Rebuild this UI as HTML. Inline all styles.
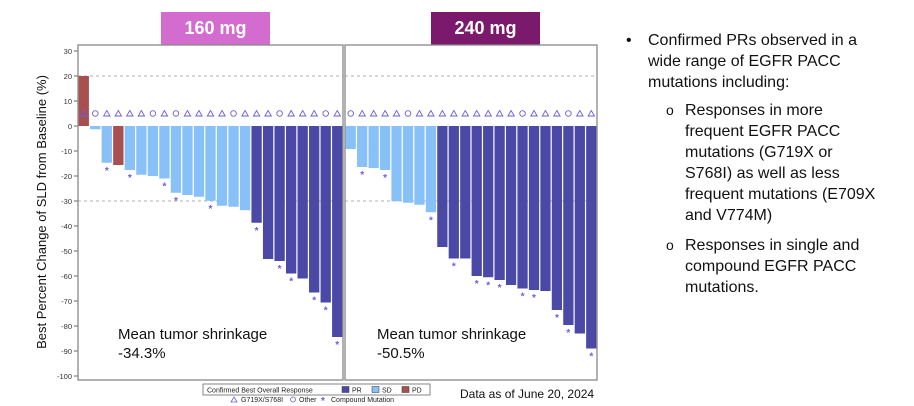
<!DOCTYPE html>
<html><head><meta charset="utf-8">
<style>
body{margin:0;width:914px;height:406px;background:#fff;overflow:hidden;font-family:"Liberation Sans",sans-serif;position:relative}
.hdr{position:absolute;top:12px;height:33px;width:109px;color:#fff;font-weight:bold;font-size:18px;text-align:center;line-height:33px}
.bul{position:absolute;font-size:16px;color:#111;line-height:21px}
</style></head><body>
<div class="hdr" style="left:161px;background:#d46bcf">160 mg</div>
<div class="hdr" style="left:431px;background:#7b1a6c">240 mg</div>
<svg id="chart" width="914" height="406" style="position:absolute;left:0;top:0"></svg>
<div class="bul" style="left:626px;top:30px">•</div>
<div class="bul" style="left:648px;top:30px;width:260px">Confirmed PRs observed in a<br>wide range of EGFR PACC<br>mutations including:</div>
<div class="bul" style="left:666px;top:100px;font-size:14px">o</div>
<div class="bul" style="left:685px;top:100px">Responses in more<br>frequent EGFR PACC<br>mutations (G719X or<br>S768I) as well as less<br>frequent mutations (E709X<br>and V774M)</div>
<div class="bul" style="left:666px;top:235px;font-size:14px">o</div>
<div class="bul" style="left:685px;top:235px">Responses in single and<br>compound EGFR PACC<br>mutations.</div>
<script>
const leftValues=[20,-1.3,-14.7,-15.6,-17.6,-19.5,-20,-21,-26.7,-27.6,-28.3,-29.9,-31.9,-32.3,-33.7,-38.7,-53.2,-54,-59,-61,-66.6,-70.6,-84.4];
const leftResp=["PD","SD","SD","PD","SD","SD","SD","SD","SD","SD","SD","SD","SD","SD","SD","PR","PR","PR","PR","PR","PR","PR","PR"];
const leftMut=["T","O","T","T","T","T","O","T","O","T","T","T","T","O","T","T","T","O","T","T","T","O","T"];
const leftCompound=[2,4,7,8,11,15,17,18,20,21,22];
const rightValues=[-9.2,-16.4,-16.8,-17.6,-30.1,-30.7,-31.5,-34.5,-48.4,-53,-53,-60,-60.5,-61.6,-63.6,-65,-65.6,-66,-73.6,-79.6,-83,-89];
const rightResp=["SD","SD","SD","SD","SD","SD","SD","SD","PR","PR","PR","PR","PR","PR","PR","PR","PR","PR","PR","PR","PR","PR"];
const rightMut=["O","T","T","T","T","O","T","T","T","T","T","T","T","T","T","O","T","T","T","O","T","T"];
const rightCompound=[1,3,7,9,11,12,13,15,16,18,19,21];
const yTicks=[30,20,10,0,-10,-20,-30,-40,-50,-60,-70,-80,-90,-100];
const means=["-34.3%","-50.5%"];
const NS="http://www.w3.org/2000/svg";
const svg=document.getElementById('chart');
const y=v=>126-v*2.5;
const colors={PR:"#4a4aa6",SD:"#87c1f8",PD:"#a84f4f"};
const mk="#6a5fd6";
function el(t,a,p){const e=document.createElementNS(NS,t);for(const k in a)e.setAttribute(k,a[k]);(p||svg).appendChild(e);return e;}
for(const t of yTicks){
 const l=el('line',{x1:74,x2:78,y1:y(t),y2:y(t),stroke:'#666'});
 
 
 const tx=el('text',{x:72,y:y(t)+3,'text-anchor':'end','font-size':7.5,fill:'#333'});
 tx.textContent=t;
 
 
}
const yt=el('text',{x:46,y:212,'text-anchor':'middle','font-size':13,fill:'#111',transform:'rotate(-90 46 212)'});
yt.textContent='Best Percent Change of SLD from Baseline (%)';


function panel(x0,x1,vals,resp,mut,comp,mean,name,tx){
 const g=el('g',{});
 
 
 for(const gv of [20,-30]){el('line',{x1:x0,x2:x1,y1:y(gv),y2:y(gv),stroke:'#999','stroke-dasharray':'3,3','stroke-width':0.8},g);}
 const w=(x1-x0)/vals.length;
 vals.forEach((v,i)=>{
  const bx=x0+i*w;
  const r=el('rect',{x:bx+0.6,y:Math.min(y(v),y(0)),width:w-1.2,height:Math.abs(y(v)-y(0)),fill:colors[resp[i]]},g);
  
  
  const cx=bx+w/2,cy=y(5);
  let m;
  if(mut[i]=="T"){m=el('path',{d:`M${cx} ${cy-3}L${cx+3.2} ${cy+2.5}L${cx-3.2} ${cy+2.5}Z`,fill:'none',stroke:mk,'stroke-width':0.9},g);}
  else{m=el('circle',{cx:cx,cy:cy,r:2.8,fill:'none',stroke:mk,'stroke-width':0.9},g);}
  
  
  if(comp.includes(i)){
   const s=el('text',{x:cx,y:y(v)+11,'text-anchor':'middle','font-size':10,fill:mk,'font-weight':'bold'},g);
   s.textContent='*';
   
   
  }
 });
 el('rect',{x:x0,y:45,width:x1-x0,height:335,fill:'none',stroke:'#888','stroke-width':1.3},g);
 const t1=el('text',{x:tx,y:339,'font-size':15,fill:'#111'},g);t1.textContent='Mean tumor shrinkage';
 
 
 const t2=el('text',{x:tx,y:358,'font-size':15,fill:'#111'},g);t2.textContent=mean;
 
 
}
panel(78,343,leftValues,leftResp,leftMut,leftCompound,means[0],'panel-160mg',118);
panel(345,597,rightValues,rightResp,rightMut,rightCompound,means[1],'panel-240mg',377);
const lg=el('g',{});


el('rect',{x:203,y:384,width:227,height:11,fill:'#fff',stroke:'#666','stroke-width':0.8},lg);
const lt=el('text',{x:207,y:392.5,'font-size':7,fill:'#222'},lg);lt.textContent='Confirmed Best Overall Response';
[['PR',342],['SD',372],['PD',402]].forEach(([k,x])=>{
 el('rect',{x:x,y:386.5,width:7,height:6,fill:colors[k],stroke:'#333','stroke-width':0.5},lg);
 const t=el('text',{x:x+10,y:392.5,'font-size':7,fill:'#222'},lg);t.textContent=k;
});
el('path',{d:'M234 397L237 402L231 402Z',fill:'none',stroke:mk,'stroke-width':0.8},lg);
let t=el('text',{x:241,y:402,'font-size':7,fill:'#222'},lg);t.textContent='G719X/S768I';
el('circle',{cx:293,cy:399.5,r:2.5,fill:'none',stroke:mk,'stroke-width':0.8},lg);
t=el('text',{x:299,y:402,'font-size':7,fill:'#222'},lg);t.textContent='Other';
t=el('text',{x:321,y:404,'font-size':10,fill:mk,'font-weight':'bold'},lg);t.textContent='*';
t=el('text',{x:331,y:402,'font-size':7,fill:'#222'},lg);t.textContent='Compound Mutation';
const d=el('text',{x:460,y:398,'font-size':12,fill:'#111'});d.textContent='Data as of June 20, 2024';


</script>
</body></html>
